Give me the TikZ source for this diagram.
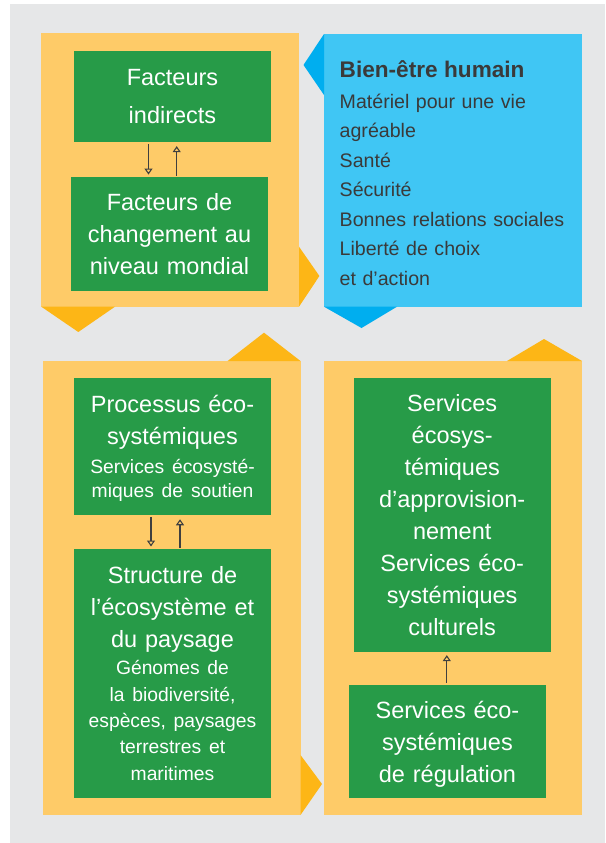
\documentclass[tikz,border=0pt]{standalone}
\usepackage{fontspec}
\setmainfont{Liberation Sans}
\usetikzlibrary{arrows.meta}
\setlength{\parindent}{0pt}
\newcommand\ctrfix{\leftskip=0pt plus 1fil\rightskip=0pt plus 1fil\parfillskip=0pt\relax}
\definecolor{bggrey}{HTML}{E6E7E8}
\definecolor{panelc}{HTML}{FECB68}
\definecolor{tabc}{HTML}{FDB616}
\definecolor{gfill}{HTML}{279B48}
\definecolor{bluep}{HTML}{40C6F4}
\definecolor{bluet}{HTML}{00AEEF}
\definecolor{btext}{HTML}{3A3A3A}
\definecolor{arrc}{HTML}{3F3F3F}
\begin{document}
\begin{tikzpicture}[x=1pt,y=-1pt,
  gbox/.style={fill=gfill, inner sep=0pt, text=white, align=center, text width=190pt,
    font={\fontsize{23.5}{32}\selectfont}},
  arr/.style={draw=arrc, line width=1.2pt, -{Triangle[open,length=6pt,width=8pt,line width=1.1pt]}}]
\useasboundingbox (0,0) rectangle (605,843);
\fill[white] (0,0) rectangle (605,843);
\fill[bggrey] (10,4) rectangle (605,843);
% top-left panel
\fill[panelc] (41,33) rectangle (299,306.7);
\fill[tabc] (299,246.7) -- (319.4,276) -- (299,306.7) -- cycle;
\fill[tabc] (41.3,306.7) -- (78.3,332) -- (115,306.7) -- cycle;
% blue panel
\fill[bluep] (324,34) rectangle (582,306.7);
\fill[bluet] (324,34) -- (303.5,65) -- (324,95) -- cycle;
\fill[bluet] (324,306.7) -- (361.5,328) -- (397,306.7) -- cycle;
% bottom-left panel
\fill[panelc] (42.8,361) rectangle (300.5,815);
\fill[tabc] (227.6,361) -- (264,332.7) -- (300.5,361) -- cycle;
\fill[tabc] (300.5,755) -- (322,784) -- (300.5,815) -- cycle;
% bottom-right panel
\fill[panelc] (324,361) rectangle (582,815);
\fill[tabc] (507,361) -- (544,339) -- (582,361) -- cycle;
% green boxes
\node[gbox, minimum width=197pt, minimum height=90.7pt, font={\fontsize{23.5}{38}\selectfont}] (fi) at (172.5,96.3)
  {\ctrfix Facteurs\par indirects\par};
\node[gbox, minimum width=197pt, minimum height=113.7pt] (fc) at (169.5,233.9)
  {\ctrfix Facteurs de\par changement au\par niveau mondial\par};
\node[gbox, minimum width=197pt, minimum height=136.7pt] (pe) at (172.5,446.4)
  {\ctrfix Processus éco-\par systémiques\par
   \fontsize{19.3}{29}\selectfont Services écosysté-\par
   \fontsize{19.3}{24.5}\selectfont miques de soutien\par\vspace{-4pt}};
\node[gbox, minimum width=197pt, minimum height=249pt] (se) at (172.5,673.5)
  {\ctrfix Structure de\par l’écosystème et\par du paysage\par
   \fontsize{19.3}{27}\selectfont Génomes de\par
   \fontsize{19.3}{26.3}\selectfont la biodiversité,\par espèces, paysages\par terrestres et\par maritimes\par};
\node[gbox, minimum width=196.7pt, minimum height=273.7pt] (sa) at (452.2,514.8)
  {\ctrfix Services\par écosys-\par témiques\par d’approvision-\par nement\par Services éco-\par systémiques\par culturels\par};
\node[gbox, minimum width=197pt, minimum height=113.3pt] (sr) at (447.5,741.4)
  {\ctrfix Services éco-\par systémiques\par de régulation\par\vspace{-5pt}};
% blue text
\node[anchor=north west, inner sep=0pt, text width=240pt, align=left, text=btext,
  font={\fontsize{19.6}{29.5}\selectfont}] (bh) at (339.5,60)
  {{\fontsize{22.6}{27}\selectfont\bfseries Bien-être humain}\par
   \fontsize{19.6}{31}\selectfont Matériel pour une vie\par
   \fontsize{19.6}{29.5}\selectfont agréable\par Santé\par Sécurité\par
   Bonnes relations sociales\par Liberté de choix\par et d’action\par};
% arrows
\coordinate (xa) at (148.5,0);
\coordinate (xb) at (176.7,0);
\coordinate (xc) at (151,0);
\coordinate (xd) at (180,0);
\coordinate (xe) at (446.8,0);
\draw[arr, shorten <=2.3pt, shorten >=2.3pt] (fi.south -| xa) -- (fc.north -| xa);
\draw[arr, shorten <=1pt, shorten >=4.3pt] (fc.north -| xb) -- (fi.south -| xb);
\draw[arr, shorten <=2pt, shorten >=2.3pt] (pe.south -| xc) -- (se.north -| xc);
\draw[arr, shorten <=1pt, shorten >=4.3pt] (se.north -| xd) -- (pe.south -| xd);
\draw[arr, shorten <=1.7pt, shorten >=3.3pt] (sr.north -| xe) -- (sa.south -| xe);
\end{tikzpicture}
\end{document}
